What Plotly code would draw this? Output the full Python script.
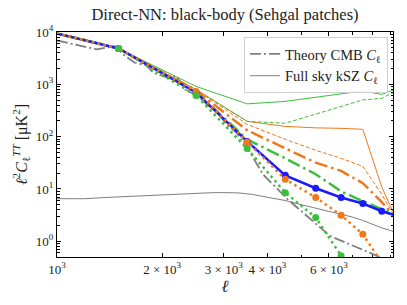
import math
import plotly.graph_objects as go

# ---------------- data ----------------
ell_bins = [500, 1500, 2500, 3500, 4500, 5500, 6500, 7500, 8500, 9500]

blue_solid = [28900, 4840, 700, 81, 18.2, 10.3, 6.86, 5.27, 3.75, 3.0]
orange_dotted = [28900, 4840, 731, 78.9, 15.3, 6.86, 3.15, 1.36, 0.39, 0.15]
green_dotted = [28900, 4840, 614, 59, 8.5, 2.84, 0.53, 0.1, 0.03, 0.01]
orange_dashdot = [28900, 4840, 760, 132, 59.8, 31.8, 22.1, 12.9, 5.6, 2.4]
green_dashdot = [28900, 4840, 720, 88.7, 38.5, 19.1, 9.0, 5.8, 4.1, 3.1]
orange_thin_dashed = [28900, 4840, 790, 172, 88.7, 54.8, 38.5, 27.1, 7.9, 2.1]
green_thin_dashed = [28900, 4840, 795, 196, 180, 267, 379, 504, 538, 800]
orange_thin_solid = [28900, 4840, 795, 196, 157, 147, 144, 138, 10.8, 2.1]
green_thin_solid = [28900, 4840, 912, 423, 472, 562, 641, 748, 641, 853]

ell_cmb = [1000, 1300, 1464, 1546, 1670, 1804, 1885, 2080, 2196, 2347, 2509,
           2679, 2860, 3055, 3259, 3482, 3884, 4577, 6030, 8200, 9500]
cmb_theory = [6880, 4640, 5360, 3720, 2580, 2300, 1660, 1335, 1433, 741, 641,
              413, 308, 172, 119, 66, 19, 6.3, 1.27, 0.53, 0.35]

ell_ksz = [1000, 1100, 1200, 1400, 1600, 1800, 2000, 2200, 2500, 2800, 3000,
           3300, 3600, 4000, 4500, 5000, 5500, 6000, 6500, 7000, 7500, 8000,
           8500, 9000, 9500]
ksz_full = [6.5, 6.4, 6.5, 6.9, 7.2, 7.6, 7.8, 8.0, 8.3, 8.5, 8.5,
            8.4, 7.9, 7.0, 6.0, 5.0, 4.3, 3.8, 3.3, 2.9, 2.5, 2.1,
            1.8, 1.6, 1.4]

x_tick_vals = [1000, 2000, 3000, 4000, 6000]
x_tick_text = ["10<sup>3</sup>", "2 × 10<sup>3</sup>", "3 × 10<sup>3</sup>",
               "4 × 10<sup>3</sup>", "6 × 10<sup>3</sup>"]
y_tick_vals = [1, 10, 100, 1000, 10000]
y_tick_text = ["10<sup>0</sup>", "10<sup>1</sup>", "10<sup>2</sup>",
               "10<sup>3</sup>", "10<sup>4</sup>"]

# ---------------- styles ----------------
ORANGE = "#f0781a"
GREEN = "#3cbf3c"
BLUE = "#1a1aff"
GRAY = "#7f7f7f"
FONT = "Liberation Serif"

fig = go.Figure()

fig.add_trace(go.Scatter(x=ell_cmb, y=cmb_theory, mode="lines",
                         name="Theory CMB <i>C</i><sub>ℓ</sub>",
                         line=dict(color=GRAY, width=1.8, dash="11px,3px,2px,3px")))
fig.add_trace(go.Scatter(x=ell_ksz, y=ksz_full, mode="lines",
                         name="Full sky kSZ <i>C</i><sub>ℓ</sub>",
                         line=dict(color=GRAY, width=1)))

def add_line(y, color, width, dash, mode="lines"):
    fig.add_trace(go.Scatter(
        x=ell_bins, y=y, mode=mode,
        showlegend=False,
        line=dict(color=color, width=width, dash=dash),
        marker=dict(size=7, color=color, line=dict(width=0))))

add_line(green_thin_solid, GREEN, 1, "solid")
add_line(orange_thin_solid, ORANGE, 1, "solid")
add_line(green_thin_dashed, GREEN, 1, "4px,2px")
add_line(orange_thin_dashed, ORANGE, 1, "4px,2px")
add_line(orange_dashdot, ORANGE, 2.5, "13px,4px,2.5px,4px")
add_line(green_dashdot, GREEN, 2.5, "13px,4px,2.5px,4px")
add_line(blue_solid, BLUE, 2.5, "solid", mode="lines+markers")
add_line(green_dotted, GREEN, 2.5, "2.5px,3.5px")
add_line(orange_dotted, ORANGE, 2.5, "2.5px,3.5px", mode="lines+markers")
add_line(green_dotted, GREEN, 2.5, "2.5px,3.5px", mode="markers")

x_minor = [5000, 7000, 8000, 9000]
y_minor = []
for d in [0.1, 1, 10, 100, 1000]:
    for m in range(2, 10):
        v = m * d
        if 0.5 <= v <= 10000:
            y_minor.append(v)

axis_common = dict(showline=True, linecolor="black", linewidth=1, mirror="allticks",
                   ticks="inside", ticklen=4, tickwidth=1, tickcolor="black",
                   showgrid=False, zeroline=False, automargin=False,
                   tickfont=dict(family=FONT, size=13, color="#222"))

fig.update_xaxes(type="log", range=[3, math.log10(9150)],
                 tickmode="array", tickvals=x_tick_vals, ticktext=x_tick_text,
                 minor=dict(tickmode="array", tickvals=x_minor, ticks="inside",
                            ticklen=2.5, tickcolor="black"),
                 title=dict(text="<i>ℓ</i>", font=dict(family=FONT, size=17, color="#222"),
                            standoff=2),
                 **axis_common)
fig.update_yaxes(type="log", range=[math.log10(0.5), 4],
                 tickmode="array", tickvals=y_tick_vals, ticktext=y_tick_text,
                 minor=dict(tickmode="array", tickvals=y_minor, ticks="inside",
                            ticklen=2.5, tickcolor="black"),
                 title=dict(text="<i>ℓ</i><sup>2</sup><i>C</i><sub>ℓ</sub><sup><i>TT</i></sup> [μK<sup>2</sup>]",
                            font=dict(family=FONT, size=16, color="#222"), standoff=4),
                 **axis_common)

fig.update_layout(
    width=407, height=305,
    margin=dict(l=57, r=14, t=32, b=48),
    paper_bgcolor="white", plot_bgcolor="white",
    title=dict(text="Direct-NN: black-body (Sehgal patches)",
               font=dict(family=FONT, size=16.5, color="#222"),
               x=0.5, xref="paper", xanchor="center", y=0.952, yanchor="middle"),
    legend=dict(x=0.985, y=0.978, xanchor="right", yanchor="top",
                bgcolor="rgba(255,255,255,0.85)", bordercolor="#d0d0d0", borderwidth=1,
                font=dict(family=FONT, size=14.5, color="#222"),
                itemwidth=30, tracegroupgap=0),
    showlegend=True,
)

fig.write_html("out.html",
               config={"displayModeBar": False},
               post_script="document.body.style.margin='0px';document.body.style.padding='0px';")
